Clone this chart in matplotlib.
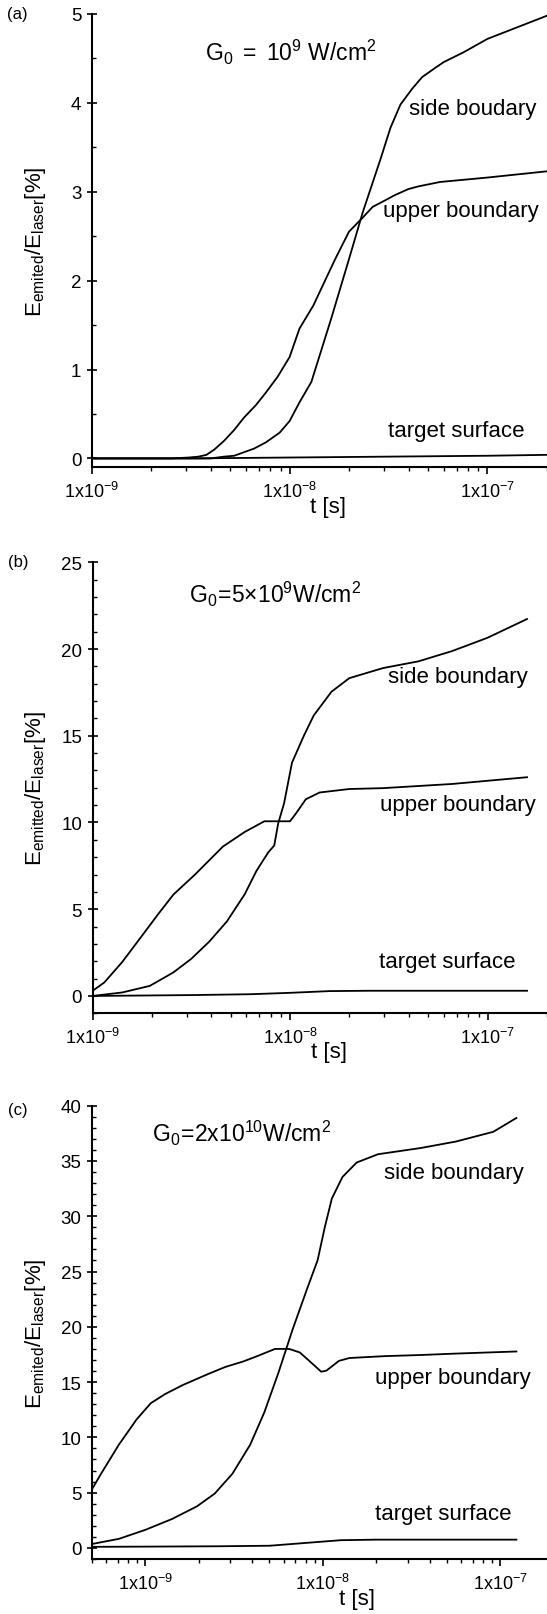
import numpy as np
import matplotlib
matplotlib.use("Agg")
import matplotlib.pyplot as plt
from matplotlib.ticker import FixedLocator, LogLocator, MultipleLocator, NullFormatter

plt.rcParams['font.family'] = ['Liberation Sans', 'DejaVu Sans']
plt.rcParams['mathtext.fontset'] = 'custom'
plt.rcParams['mathtext.rm'] = 'Liberation Sans'
plt.rcParams['mathtext.it'] = 'Liberation Sans:italic'

# ---- datos (log10 del tiempo en s, porcentaje) ----
# (a) G0 = 1e9 W/cm2
a_side_lt = [-9.0, -8.5, -8.40, -8.33, -8.28, -8.23, -8.18, -8.12, -8.05, -8.0, -7.95, -7.89,
             -7.79, -7.70, -7.63, -7.54, -7.49, -7.44, -7.38, -7.33, -7.26, -7.22, -7.12,
             -7.0, -6.70]
a_side_v = [0.0, 0.0, 0.0, 0.02, 0.03, 0.07, 0.11, 0.18, 0.29, 0.42, 0.63, 0.86,
            1.57, 2.24, 2.77, 3.37, 3.72, 3.98, 4.16, 4.29, 4.40, 4.46, 4.57, 4.72, 4.98]
a_upper_lt = [-9.0, -8.6, -8.51, -8.46, -8.42, -8.38, -8.33, -8.28, -8.23, -8.17, -8.12,
              -8.06, -8.0, -7.95, -7.88, -7.77, -7.70, -7.63, -7.58, -7.52, -7.47, -7.40,
              -7.35, -7.24, -7.0, -6.70]
a_upper_v = [0.0, 0.0, 0.01, 0.02, 0.04, 0.10, 0.20, 0.32, 0.46, 0.60, 0.74,
             0.92, 1.14, 1.46, 1.72, 2.24, 2.55, 2.71, 2.83, 2.90, 2.96, 3.03,
             3.06, 3.11, 3.16, 3.23]
a_target_lt = [-9.0, -8.5, -8.0, -7.5, -7.0, -6.70]
a_target_v = [0.0, 0.0, 0.01, 0.02, 0.03, 0.04]

# (b) G0 = 5e9 W/cm2
b_side_lt = [-9.0, -8.85, -8.71, -8.59, -8.50, -8.41, -8.32, -8.23, -8.17, -8.11, -8.08,
             -8.06, -8.03, -7.99, -7.93, -7.88, -7.79, -7.70, -7.53, -7.35, -7.18, -7.0, -6.80]
b_side_v = [0.0, 0.2, 0.58, 1.36, 2.14, 3.12, 4.29, 5.85, 7.21, 8.28, 8.67,
            9.94, 11.11, 13.45, 15.0, 16.17, 17.54, 18.32, 18.9, 19.29, 19.88, 20.65, 21.73]
b_upper_lt = [-9.0, -8.94, -8.85, -8.76, -8.67, -8.59, -8.48, -8.34, -8.23, -8.13, -8.06,
              -8.0, -7.97, -7.92, -7.85, -7.70, -7.53, -7.18, -6.80]
b_upper_v = [0.29, 0.78, 1.95, 3.31, 4.68, 5.85, 7.01, 8.61, 9.45, 10.07, 10.07,
             10.07, 10.52, 11.34, 11.73, 11.93, 11.98, 12.22, 12.61]
b_target_lt = [-9.0, -8.5, -8.2, -8.0, -7.8, -7.6, -7.2, -6.80]
b_target_v = [0.0, 0.05, 0.1, 0.18, 0.28, 0.3, 0.3, 0.3]

# (c) G0 = 2e10 W/cm2
c_side_lt = [-9.31, -9.15, -9.0, -8.85, -8.71, -8.61, -8.51, -8.41, -8.33, -8.25, -8.17,
             -8.09, -8.03, -7.99, -7.95, -7.89, -7.81, -7.69, -7.45, -7.25, -7.04, -6.91]
c_side_v = [0.33, 0.82, 1.64, 2.62, 3.76, 4.91, 6.71, 9.33, 12.27, 15.88, 19.8,
            23.4, 26.02, 28.97, 31.59, 33.55, 34.86, 35.61, 36.17, 36.76, 37.64, 38.89]
c_upper_lt = [-9.31, -9.25, -9.15, -9.05, -8.97, -8.89, -8.79, -8.65, -8.55, -8.45, -8.37,
              -8.27, -8.19, -8.13, -8.05, -8.01, -7.98, -7.91, -7.85, -7.65, -7.45, -7.25, -6.91]
c_upper_v = [5.07, 6.71, 9.33, 11.62, 13.09, 13.91, 14.73, 15.71, 16.37, 16.86, 17.35,
             18.0, 18.0, 17.68, 16.53, 15.94, 16.04, 16.92, 17.18, 17.35, 17.45, 17.58, 17.77]
c_target_lt = [-9.31, -9.0, -8.6, -8.3, -8.1, -7.9, -7.7, -7.3, -6.91]
c_target_v = [0.1, 0.12, 0.15, 0.2, 0.45, 0.7, 0.75, 0.75, 0.75]

paneles = [
    dict(letra='(a)', g=r'$\mathregular{G_0\ =\ 10^9\ W/cm^2}$',
         ylab=r'$\mathregular{E_{emited}/E_{laser}[\%]}$',
         curvas=[(a_side_lt, a_side_v), (a_upper_lt, a_upper_v), (a_target_lt, a_target_v)],
         nombres=['side boudary', 'upper boundary', 'target surface'],
         xlim=(1e-9, 2.0e-7), ylim=(-0.1, 5), ymaj=1, ymin=0.5),
    dict(letra='(b)', g=r'$\mathregular{G_0\!=\!5{\times}10^9W/cm^2}$',
         ylab=r'$\mathregular{E_{emitted}/E_{laser}[\%]}$',
         curvas=[(b_side_lt, b_side_v), (b_upper_lt, b_upper_v), (b_target_lt, b_target_v)],
         nombres=['side boundary', 'upper boundary', 'target surface'],
         xlim=(1e-9, 2.0e-7), ylim=(-1, 25), ymaj=5, ymin=1),
    dict(letra='(c)', g=r'$\mathregular{G_0\!=\!2x10^{10}W/cm^2}$',
         ylab=r'$\mathregular{E_{emited}/E_{laser}[\%]}$',
         curvas=[(c_side_lt, c_side_v), (c_upper_lt, c_upper_v), (c_target_lt, c_target_v)],
         nombres=['side boundary', 'upper boundary', 'target surface'],
         xlim=(5e-10, 1.83e-7), ylim=(-1, 40), ymaj=5, ymin=1),
]

# posiciones en pixeles (figura 547 x 1615)
W, H = 547.0, 1615.0
cajas = [(91.7, 15.0, 468.3), (92.5, 563.3, 1014.3), (92.0, 1106.7, 1560.0)]
pos_letra = [(17, 15), (18, 563), (18, 1110)]
pos_g = [(291, 52), (275, 594), (242, 1133)]
pos_nombres = [[(473, 110), (461, 212), (456, 432)],
               [(458, 678), (458, 806), (447, 963)],
               [(454, 1173), (453, 1379), (443, 1515)]]
pos_tlab = [(328, 507), (329, 1053), (357, 1600)]

fig = plt.figure(figsize=(5.47, 16.15), dpi=100)


def px(x, y):
    return x / W, 1 - y / H


for i, p in enumerate(paneles):
    l, t, b = cajas[i]
    ax = fig.add_axes([l / W, 1 - b / H, 1 - l / W, (b - t) / H])
    for lt, v in p['curvas']:
        ax.plot(10.0 ** np.array(lt), v, color='black', lw=1.3)
    ax.set_xscale('log')
    ax.set_xlim(*p['xlim'])
    ax.spines['top'].set_visible(False)
    ax.spines['right'].set_visible(False)
    ax.spines['left'].set_linewidth(1.5)
    ax.spines['bottom'].set_linewidth(1.5)
    ax.xaxis.set_major_locator(FixedLocator([1e-9, 1e-8, 1e-7]))
    ax.set_xticklabels([r'$\mathregular{1x10^{-9}}$', r'$\mathregular{1x10^{-8}}$',
                        r'$\mathregular{1x10^{-7}}$'])
    ax.xaxis.set_minor_locator(LogLocator(base=10, subs=np.arange(2, 10)))
    ax.xaxis.set_minor_formatter(NullFormatter())
    ax.yaxis.set_major_locator(MultipleLocator(p['ymaj']))
    ax.yaxis.set_minor_locator(MultipleLocator(p['ymin']))
    ax.set_ylim(*p['ylim'])
    ax.tick_params(axis='x', which='major', direction='out', length=5, width=1.2,
                   labelsize=13, pad=5)
    ax.tick_params(axis='x', which='minor', direction='out', length=3, width=1.0)
    ax.tick_params(axis='y', which='major', direction='inout', length=7, width=1.2,
                   labelsize=13.5, pad=4)
    ax.tick_params(axis='y', which='minor', direction='in', length=3, width=1.0)

    fig.text(*px(*pos_letra[i]), p['letra'], fontsize=12, ha='center', va='center')
    fig.text(*px(*pos_g[i]), p['g'], fontsize=16.5, ha='center', va='center')
    for nombre, (x, y) in zip(p['nombres'], pos_nombres[i]):
        fig.text(*px(x, y), nombre, fontsize=16, ha='center', va='center')
    fig.text(*px(*pos_tlab[i]), 't [s]', fontsize=16, ha='center', va='center')
    fig.text(*px(36, (t + b) / 2), p['ylab'], fontsize=16, rotation=90,
             ha='center', va='center')

fig.savefig('out.png', dpi=100)
